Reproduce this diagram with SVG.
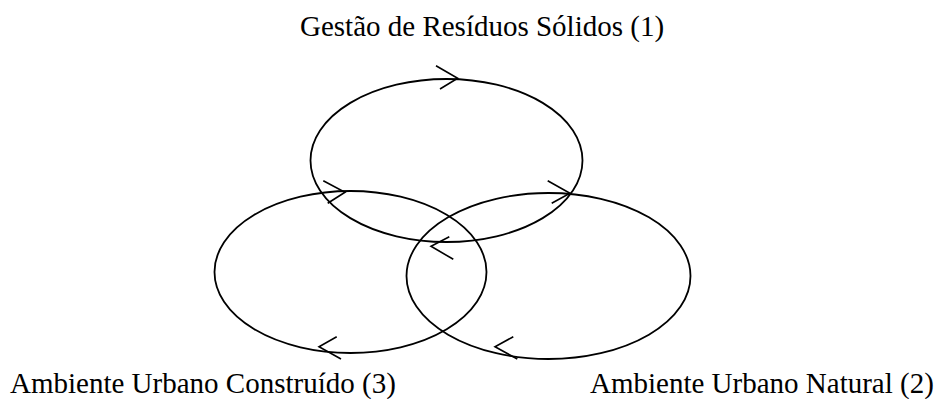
<svg xmlns="http://www.w3.org/2000/svg" width="934" height="399" viewBox="0 0 934 399">
  <style>
    .ring { fill: none; stroke: #000; stroke-width: 1.8; }
    .head { fill: none; stroke: #000; stroke-width: 1.6; stroke-linecap: butt; stroke-linejoin: miter; }
    .lbl { font-family: "Liberation Serif", "Times New Roman", serif; font-size: 29px; fill: #000; }
  </style>
  <rect width="934" height="399" fill="#fff"/>
  <g id="node-gestao">
    <ellipse class="ring" cx="446.5" cy="160.5" rx="136" ry="81.5"/>
    <text class="lbl" x="300" y="36">Gestão de Resíduos Sólidos (1)</text>
  </g>
  <g id="node-construido">
    <ellipse class="ring" cx="350.5" cy="272" rx="136" ry="81"/>
    <text class="lbl" x="10" y="393">Ambiente Urbano Construído (3)</text>
  </g>
  <g id="node-natural">
    <ellipse class="ring" cx="548.5" cy="276" rx="142" ry="83"/>
    <text class="lbl" x="590" y="393">Ambiente Urbano Natural (2)</text>
  </g>
  <g id="connectors">
    <polyline class="head" points="436,65.7 457.7,78.3 440,89"/>
    <polyline class="head" points="323.3,180.7 345,192.3 327.7,203.3"/>
    <polyline class="head" points="547.7,180.7 570,193.3 551.7,203.3"/>
    <polyline class="head" points="449.3,236.7 431,246.3 453.3,259.3"/>
    <polyline class="head" points="336.7,336.7 319,346.7 341,359"/>
    <polyline class="head" points="513.3,336.7 495,346.7 517.3,359"/>
  </g>
</svg>
